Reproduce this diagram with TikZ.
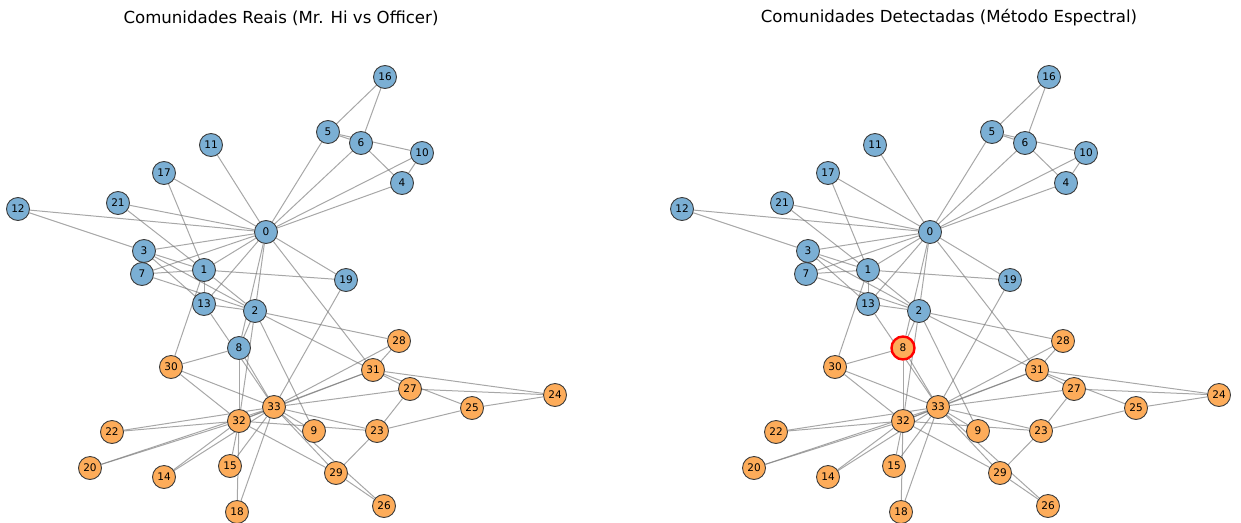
\documentclass[tikz,border=0pt]{standalone}
\usepackage{fontspec}
\setmainfont{DejaVu Sans}
\usetikzlibrary{backgrounds}

\definecolor{hiblue}{RGB}{123,175,212}
\definecolor{offorange}{RGB}{253,172,90}
\definecolor{rimgray}{RGB}{60,60,60}
\definecolor{edgegray}{RGB}{120,120,120}

\tikzset{
  vtx/.style={circle, draw=rimgray, line width=0.9, minimum size=23, inner sep=0pt,
              font=\fontsize{10.5}{10.5}\selectfont},
  hi/.style={vtx, fill=hiblue},
  off/.style={vtx, fill=offorange},
  wrong/.style={off, draw=red, line width=2.4},
  link/.style={draw=edgegray, draw opacity=0.65, line width=1},
  ttl/.style={font=\fontsize{16.6}{16.6}\selectfont}
}

\begin{document}
\begin{tikzpicture}[x=1pt,y=-1pt]
\useasboundingbox (0,0) rectangle (1241,522);

% Titles
\node[ttl] (lefttitle) at (281,18) {Comunidades Reais (Mr. Hi vs Officer)};
\node[ttl] (righttitle) at (949,18) {Comunidades Detectadas (Método Espectral)};

% Vertices, left panel then right panel (node 8 differs)
\foreach \p/\dx/\e in {L/0/hi, R/664/wrong} {
  \begin{scope}[xshift=\dx]
    \foreach \n/\x/\y/\s in {0/266/232/hi, 1/204/270/hi, 2/255/311/hi, 3/144/251/hi,
        4/402/183/hi, 5/328/132/hi, 6/361/143/hi, 7/142/274/hi, 9/314/431/off,
        10/422/153/hi, 11/211/145/hi, 12/18/209/hi, 13/204/304/hi, 14/164/477/off,
        15/230/466/off, 16/385/77/hi, 17/164/173/hi, 18/237/512/off, 19/346/280/hi,
        20/90/468/off, 21/118/203/hi, 22/112/432/off, 23/377/431/off, 24/555/395/off,
        25/472/408/off, 26/384/506/off, 27/410/389/off, 28/399/341/off, 29/336/473/off,
        30/171/367/off, 31/373/370/off, 32/239/421/off, 33/274/407/off}
      \node[\s] (\p\n) at (\x,\y) {\n};
    \node[\e] (\p8) at (239,348) {8};
  \end{scope}
}

% Edges
\begin{pgfonlayer}{background}
\foreach \p in {L,R}
  \foreach \a/\b in {0/1, 0/2, 0/3, 0/4, 0/5, 0/6, 0/7, 0/8, 0/10, 0/11, 0/12, 0/13,
      0/17, 0/19, 0/21, 0/31, 1/2, 1/3, 1/7, 1/13, 1/17, 1/19, 1/21, 1/30,
      2/3, 2/7, 2/8, 2/9, 2/13, 2/27, 2/28, 2/32, 3/7, 3/12, 3/13, 4/6, 4/10,
      5/6, 5/10, 5/16, 6/16, 8/30, 8/32, 8/33, 9/33, 13/33, 14/32, 14/33,
      15/32, 15/33, 18/32, 18/33, 19/33, 20/32, 20/33, 22/32, 22/33,
      23/25, 23/27, 23/29, 23/32, 23/33, 24/25, 24/27, 24/31, 25/31,
      26/29, 26/33, 27/33, 28/31, 28/33, 29/32, 29/33, 30/32, 30/33,
      31/32, 31/33, 32/33}
    \draw[link] (\p\a) -- (\p\b);
\end{pgfonlayer}

\end{tikzpicture}
\end{document}
